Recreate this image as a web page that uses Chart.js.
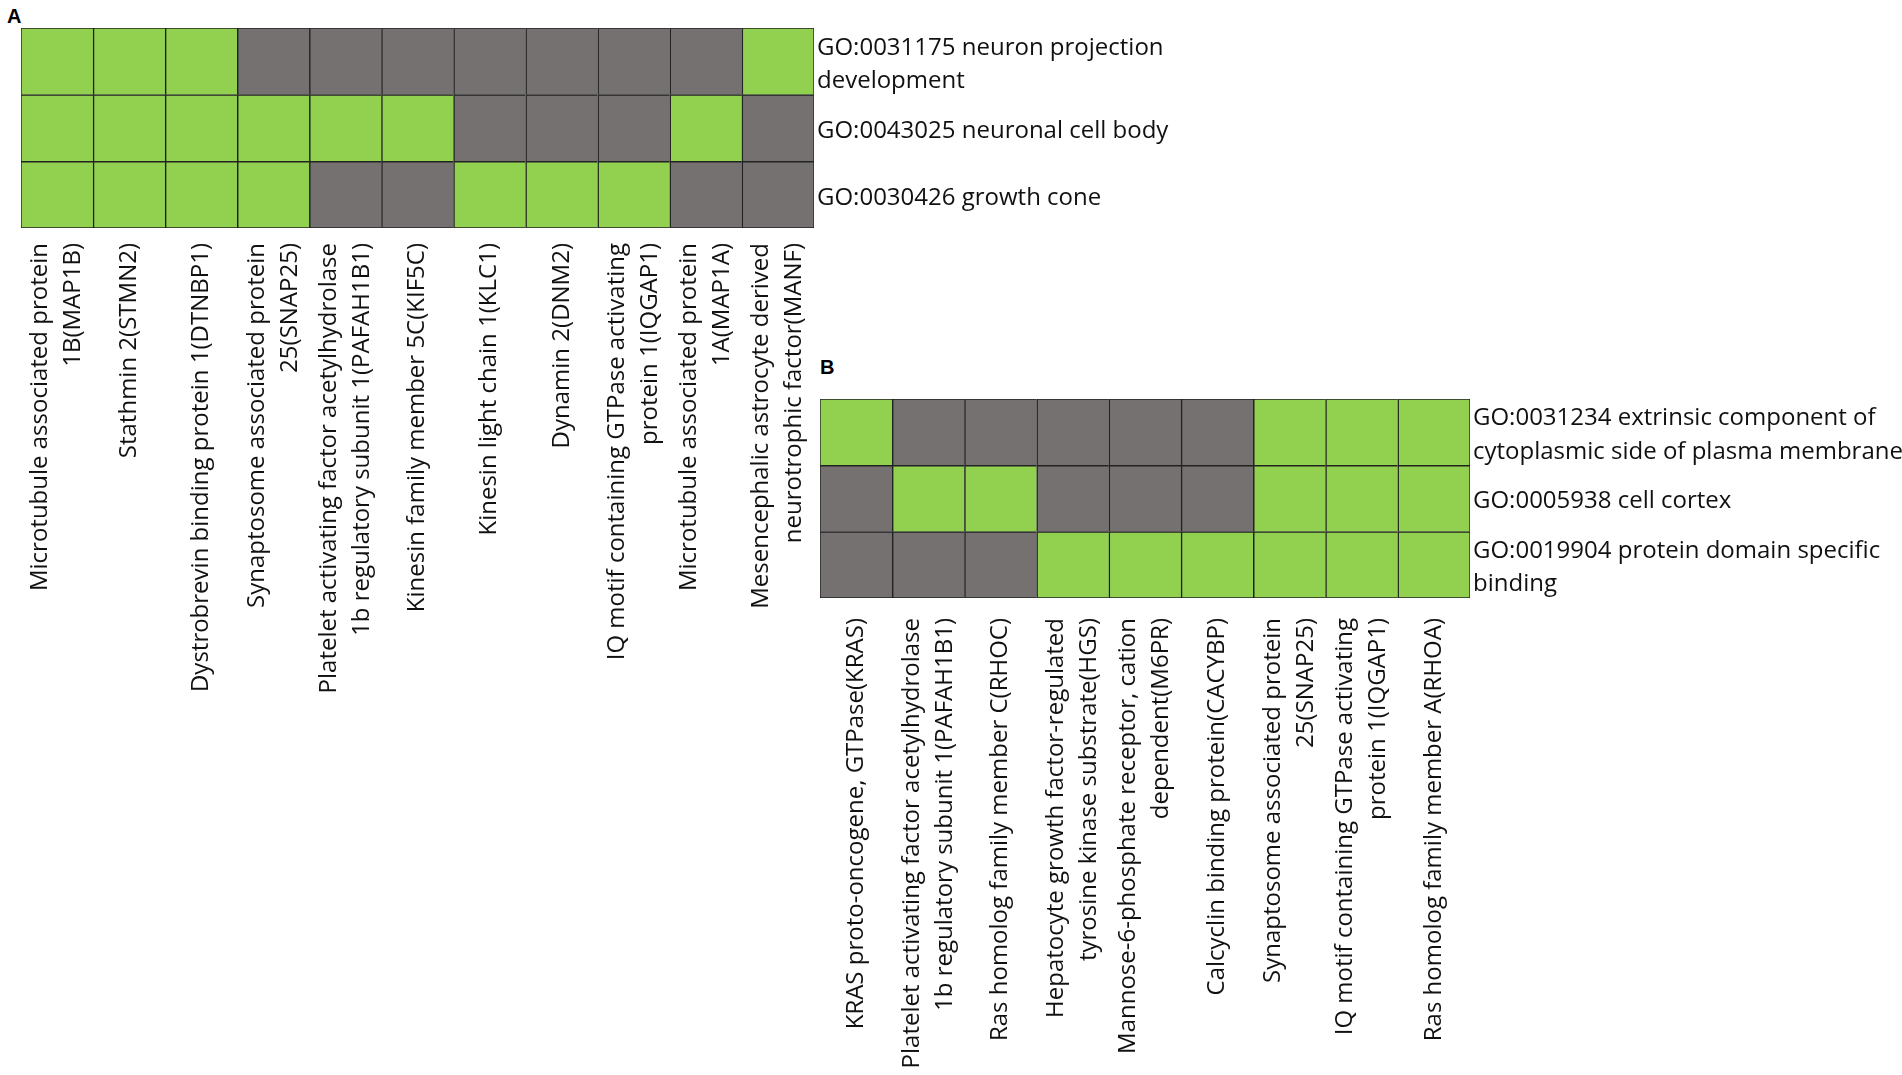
<!DOCTYPE html>
<html>
<head>
<meta charset="utf-8">
<script src="https://cdn.jsdelivr.net/npm/chart.js@4.4.1/dist/chart.umd.min.js"></script>
<style>
  body { margin: 0; background: #fff; width: 1902px; height: 1075px; position: relative; overflow: hidden; }
  canvas { position: absolute; }
  .tag { position: absolute; font: bold 20px/20px 'Liberation Sans', Arial, sans-serif; color: #000; }
</style>
</head>
<body>
<div class="tag" style="left:7px;top:6px">A</div>
<div class="tag" style="left:820px;top:357px">B</div>
<canvas id="panelA" width="1300" height="740" style="left:0;top:0"></canvas>
<canvas id="panelB" width="1122" height="735" style="left:780px;top:340px"></canvas>
<script>
// Panel A genes (x) and GO terms (rows, top to bottom)
var genesA = [
    ["Microtubule associated protein", "1B(MAP1B)"],
    ["Stathmin 2(STMN2)"],
    ["Dystrobrevin binding protein 1(DTNBP1)"],
    ["Synaptosome associated protein", "25(SNAP25)"],
    ["Platelet activating factor acetylhydrolase", "1b regulatory subunit 1(PAFAH1B1)"],
    ["Kinesin family member 5C(KIF5C)"],
    ["Kinesin light chain 1(KLC1)"],
    ["Dynamin 2(DNM2)"],
    ["IQ motif containing GTPase activating", "protein 1(IQGAP1)"],
    ["Microtubule associated protein", "1A(MAP1A)"],
    ["Mesencephalic astrocyte derived", "neurotrophic factor(MANF)"]
];
var termsA = [
    ["GO:0031175 neuron projection", "development"],
    "GO:0043025 neuronal cell body",
    "GO:0030426 growth cone"
];
// 1 = gene annotated with the term (green), 0 = not (grey)
var hitsA = [
    [1, 1, 1, 0, 0, 0, 0, 0, 0, 0, 1],
    [1, 1, 1, 1, 1, 1, 0, 0, 0, 1, 0],
    [1, 1, 1, 1, 0, 0, 1, 1, 1, 0, 0]
];

// Panel B
var genesB = [
    ["KRAS proto-oncogene, GTPase(KRAS)"],
    ["Platelet activating factor acetylhydrolase", "1b regulatory subunit 1(PAFAH1B1)"],
    ["Ras homolog family member C(RHOC)"],
    ["Hepatocyte growth factor-regulated", "tyrosine kinase substrate(HGS)"],
    ["Mannose-6-phosphate receptor, cation", "dependent(M6PR)"],
    ["Calcyclin binding protein(CACYBP)"],
    ["Synaptosome associated protein", "25(SNAP25)"],
    ["IQ motif containing GTPase activating", "protein 1(IQGAP1)"],
    ["Ras homolog family member A(RHOA)"]
];
var termsB = [
    ["GO:0031234 extrinsic component of", "cytoplasmic side of plasma membrane"],
    "GO:0005938 cell cortex",
    ["GO:0019904 protein domain specific", "binding"]
];
var hitsB = [
    [1, 0, 0, 0, 0, 0, 1, 1, 1],
    [0, 1, 1, 0, 0, 0, 1, 1, 1],
    [0, 0, 0, 1, 1, 1, 1, 1, 1]
];

var GREEN = "#92d050";
var GREY = "#767171";
var FONT = "'Open Sans', 'DejaVu Sans', sans-serif";

Chart.defaults.font.family = FONT;
Chart.defaults.font.size = 24;
Chart.defaults.color = "#111";

// rotated gene names under each column, centred on the column
function geneLabels(gap) {
    return {
        id: "geneLabels",
        afterDraw: function (chart) {
            var ctx = chart.ctx;
            var area = chart.chartArea;
            var xs = chart.scales.x;
            var lh = 33;
            ctx.save();
            ctx.font = "24px " + FONT;
            ctx.fillStyle = "#111";
            ctx.textAlign = "right";
            ctx.textBaseline = "middle";
            chart.data.labels.forEach(function (lines, i) {
                var cx = xs.getPixelForValue(i);
                lines.forEach(function (line, j) {
                    var off = (j - (lines.length - 1) / 2) * lh;
                    ctx.save();
                    ctx.translate(cx + off, area.bottom + gap);
                    ctx.rotate(-Math.PI / 2);
                    ctx.fillText(line, 0, 0);
                    ctx.restore();
                });
            });
            ctx.restore();
        }
    };
}

function drawPanel(id, genes, terms, hits, pad, axisWidth, gap) {
    var n = genes.length;
    // stacked bars start at the bottom, so the last row goes first
    var rows = hits.slice().reverse();
    new Chart(id, {
        type: "bar",
        data: {
            labels: genes,
            datasets: rows.map(function (r) {
                return {
                    data: r.map(function () { return 1; }),
                    backgroundColor: r.map(function (v) { return v ? GREEN : GREY; }),
                    borderColor: "#222",
                    borderWidth: function (c) {
                        return {
                            left: c.dataIndex === 0 ? 1 : 1.5,
                            top: c.datasetIndex === rows.length - 1 ? 1 : 1.5,
                            right: c.dataIndex === n - 1 ? 1 : 0,
                            bottom: c.datasetIndex === 0 ? 1 : 0
                        };
                    },
                    borderSkipped: false,
                    barPercentage: 1,
                    categoryPercentage: 1
                };
            })
        },
        options: {
            responsive: false,
            animation: false,
            events: [],
            layout: {
                padding: { left: pad.left, top: pad.top, right: 0, bottom: pad.bottom }
            },
            plugins: {
                legend: { display: false },
                tooltip: { enabled: false }
            },
            scales: {
                x: { stacked: true, display: false },
                y: { stacked: true, display: false, min: 0, max: 3 },
                go: {
                    type: "category",
                    position: "right",
                    labels: terms,
                    offset: true,
                    grid: { display: false, drawTicks: false },
                    border: { display: false },
                    ticks: {
                        autoSkip: false,
                        padding: 3,
                        labelOffset: 3,
                        color: "#111",
                        font: { size: 24, lineHeight: 1.38 }
                    },
                    afterFit: function (scale) {
                        scale.width = axisWidth;
                    }
                }
            }
        },
        plugins: [geneLabels(gap)]
    });
}

drawPanel("panelA", genesA, termsA, hitsA, { left: 21, top: 28, bottom: 512 }, 486, 15);
drawPanel("panelB", genesB, termsB, hitsB, { left: 40, top: 59, bottom: 477 }, 432, 20);
</script>
</body>
</html>
